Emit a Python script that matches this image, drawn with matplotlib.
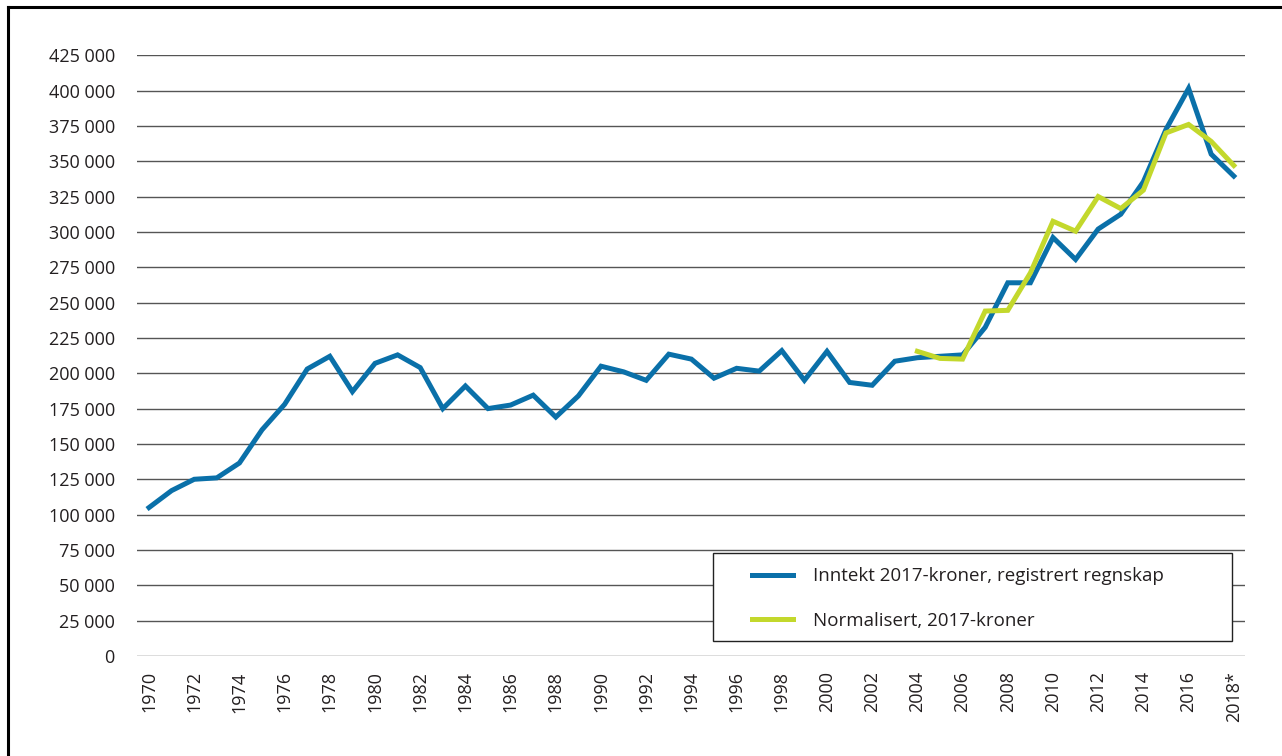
import numpy as np
import matplotlib
matplotlib.use("Agg")
import matplotlib.pyplot as plt
from matplotlib.lines import Line2D
from matplotlib.patches import Rectangle
from matplotlib.ticker import FuncFormatter

plt.rcParams['font.family'] = ['Open Sans', 'DejaVu Sans']

# inntekt i 2017-kroner, registrert regnskap
years = list(range(1970, 2019))
inntekt = [105000, 117000, 125000, 126000, 136500, 160000, 178000, 203000, 212000, 187000,
           207000, 213000, 204000, 175000, 191000, 175000, 177500, 184500, 169000, 184000,
           205000, 201000, 195000, 213500, 210000, 196500, 203500, 201500, 216000, 195000,
           215500, 193500, 191500, 208500, 211000, 212000, 213000, 232500, 264000, 264000,
           296000, 280500, 302000, 312500, 335500, 372500, 401500, 355000, 339500]

# normalisert, 2017-kroner
norm_years = list(range(2004, 2019))
normalisert = [215500, 210500, 210000, 244000, 244500, 271000, 307500, 300500, 325000, 316500,
               329500, 370000, 376000, 364000, 347000]

tick_years = list(range(1970, 2019, 2))
tick_labels = [str(y) for y in tick_years[:-1]] + ['2018*']

blue = '#0a70a9'
green = '#c3d82c'
txt = '#231f20'

fig = plt.figure(figsize=(12.82, 7.56), dpi=100)
ax = fig.add_axes([0.1069, 0.1323, 0.8643, 0.7947])

ax.plot(years, inntekt, color=blue, lw=3.6, solid_joinstyle='miter',
        label='Inntekt 2017-kroner, registrert regnskap', zorder=3)
ax.plot(norm_years, normalisert, color=green, lw=3.6, solid_joinstyle='miter',
        label='Normalisert, 2017-kroner', zorder=4)

ax.set_ylim(0, 425000)
ax.set_xlim(1969.47, 2018.5)
ax.set_yticks(np.arange(0, 425001, 25000))
ax.yaxis.set_major_formatter(FuncFormatter(lambda v, p: f"{int(v):,}".replace(',', ' ')))
ax.set_xticks(tick_years)
ax.set_xticklabels(tick_labels, rotation=90)
ax.tick_params(axis='y', length=0, pad=16, labelsize=13, labelcolor=txt)
ax.tick_params(axis='x', length=0, pad=11, labelsize=13, labelcolor=txt)
ax.grid(axis='y', color='#555555', lw=1)
ax.set_axisbelow(True)
for s in ax.spines.values():
    s.set_visible(False)

# legendeboks
box = Rectangle((0.5199, 0.025), 0.4684, 0.1464, transform=ax.transAxes,
                facecolor='white', edgecolor='#222222', lw=1.0, zorder=5)
ax.add_patch(box)
leg = ax.legend(loc='center left', bbox_to_anchor=(0.555, 0.0957),
                borderaxespad=0, borderpad=0, fontsize=13.5, frameon=False,
                handlelength=2.19, handletextpad=1.07, labelspacing=1.43)
leg.set_zorder(6)
for t in leg.get_texts():
    t.set_color(txt)

# ramme rundt figuren (bare topp og venstre synlig)
fig.add_artist(Line2D([0.006, 1.0], [0.9905, 0.9905], color='black', lw=2.2, transform=fig.transFigure))
fig.add_artist(Line2D([0.0065, 0.0065], [0.0, 0.9905], color='black', lw=2.2, transform=fig.transFigure))

fig.savefig('out.png', dpi=100)
